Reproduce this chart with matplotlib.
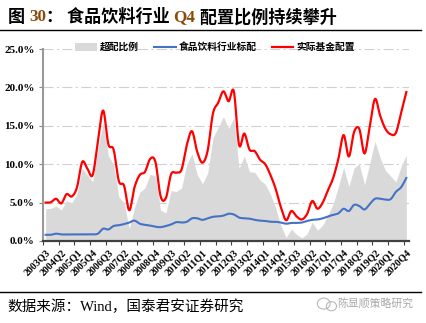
import numpy as np
import matplotlib
matplotlib.use("Agg")
import matplotlib.pyplot as plt
from matplotlib.ticker import PercentFormatter, FixedLocator
from matplotlib.patches import Patch, Ellipse
from matplotlib.lines import Line2D

# quarters 2003Q3 .. 2020Q4
quarters = [f"{y}Q{q}" for y in range(2003, 2021) for q in range(1, 5)][2:]

# actual fund allocation to food & beverage (%)
actual = [5.0, 5.05, 5.5, 4.9, 6.1, 5.8, 7.0, 10.3, 9.4, 8.6,
          13.0, 17.0, 12.6, 11.9, 7.8, 7.2, 4.0, 7.0, 8.6, 9.0,
          10.7, 10.3, 5.8, 5.6, 8.7, 8.9, 9.3, 12.5, 14.3, 11.6,
          10.2, 11.8, 16.6, 18.0, 19.5, 18.2, 19.5, 12.5, 14.0, 11.9,
          11.7, 10.6, 10.0, 8.6, 6.8, 4.4, 2.7, 3.9, 3.2, 2.8,
          3.5, 5.2, 4.2, 5.0, 6.6, 8.2, 10.7, 13.8, 11.0, 14.2,
          14.6, 11.4, 14.9, 18.5, 16.3, 14.6, 13.9, 14.1, 16.7, 19.4]

# market benchmark weight of the sector (%)
benchmark = [0.8, 0.8, 0.95, 0.85, 0.85, 0.85, 0.85, 0.85, 0.85, 0.85,
             0.95, 1.6, 1.5, 1.95, 2.05, 2.2, 2.4, 2.65, 2.25, 2.1,
             2.0, 1.85, 1.8, 1.95, 2.15, 2.45, 2.4, 2.5, 2.95, 2.95,
             2.75, 2.95, 3.15, 3.2, 3.3, 3.55, 3.45, 3.05, 2.95, 2.9,
             2.75, 2.65, 2.6, 2.5, 2.5, 2.4, 2.25, 2.35, 2.35, 2.4,
             2.6, 2.75, 2.8, 2.95, 3.2, 3.4, 3.6, 4.2, 3.9, 4.7,
             4.55, 4.1, 4.8, 5.5, 5.5, 5.4, 5.45, 6.4, 7.0, 8.2]

# overweight = actual - benchmark
overweight = np.array(actual) - np.array(benchmark)

CJK = ["Noto Sans CJK SC", "DejaVu Sans"]
SERIF_CJK = ["Liberation Serif", "Noto Sans CJK SC"]


def smooth(x, y, n=12):
    # Catmull-Rom curve through the points, like Excel's smoothed line
    x = np.asarray(x, float)
    y = np.asarray(y, float)
    px = np.concatenate([[2 * x[0] - x[1]], x, [2 * x[-1] - x[-2]]])
    py = np.concatenate([[2 * y[0] - y[1]], y, [2 * y[-1] - y[-2]]])
    t = np.linspace(0, 1, n, endpoint=False)[None, :]
    out = []
    for p in (px, py):
        p0, p1, p2, p3 = (p[k:len(p) - 3 + k][:, None] for k in range(4))
        seg = 0.5 * (2 * p1 + (-p0 + p2) * t
                     + (2 * p0 - 5 * p1 + 4 * p2 - p3) * t ** 2
                     + (-p0 + 3 * p1 - 3 * p2 + p3) * t ** 3)
        out.append(np.append(seg.ravel(), p[-2]))
    return out


fig = plt.figure(figsize=(4.26, 3.23), dpi=100)
ax = fig.add_axes([0.101, 0.254, 0.859, 0.594])

idx = np.arange(len(quarters))
ax.fill_between(idx, 0, overweight, color="#d9d9d9", lw=0, zorder=2)
bx, by = smooth(idx, benchmark)
ax.plot(bx, by, color="#4472c4", lw=1.5, zorder=3)
rx, ry = smooth(idx, actual)
ax.plot(rx, ry, color="#ff0000", lw=1.6, zorder=4)

ax.set_xlim(-0.5, len(quarters) - 0.5)
ax.set_ylim(0, 25)
ax.yaxis.set_major_locator(FixedLocator([0, 5, 10, 15, 20, 25]))
ax.yaxis.set_major_formatter(PercentFormatter(decimals=1))
ax.yaxis.grid(True, color="#d0d0d0", linestyle=(0, (9, 3, 2, 3)), lw=0.8, zorder=0)
ax.set_axisbelow(True)

ax.set_xticks(idx[::3])
ax.set_xticklabels(quarters[::3], rotation=45, ha="right", rotation_mode="anchor")
ax.set_xticks(np.arange(-0.5, len(quarters), 3), minor=True)
ax.tick_params(axis="x", which="major", length=0, pad=5)
ax.tick_params(axis="x", which="minor", length=3, color="#404040", width=0.8)
ax.tick_params(axis="y", length=3, color="#888888", width=0.8, pad=3)
for lab in ax.get_xticklabels():
    lab.set_fontfamily("Liberation Serif")
    lab.set_fontweight("bold")
    lab.set_fontsize(7.2)
for lab in ax.get_yticklabels():
    lab.set_fontfamily("Liberation Serif")
    lab.set_fontweight("bold")
    lab.set_fontsize(8)

for s in ("top", "right"):
    ax.spines[s].set_visible(False)
ax.spines["left"].set_color("#999999")
ax.spines["left"].set_linewidth(1.5)
ax.spines["bottom"].set_color("#404040")
ax.spines["bottom"].set_linewidth(1.6)

handles = [Patch(facecolor="#d9d9d9", edgecolor="none"),
           Line2D([], [], color="#4472c4", lw=1.5),
           Line2D([], [], color="#ff0000", lw=1.6)]
labels = ["超配比例", "食品饮料行业标配", "实际基金配置"]
ax.legend(handles, labels, loc="center", bbox_to_anchor=(0.47, 1.01), ncol=3,
          frameon=False, prop={"family": CJK, "size": 7, "weight": "bold"},
          handlelength=2.2, handleheight=0.8, columnspacing=1.6, handletextpad=0.3)

# title made of pieces with different colours
fig.canvas.draw()
r = fig.canvas.get_renderer()
pieces = [("图 ", "black", CJK), ("30", "#8a4b08", SERIF_CJK), ("： ", "black", CJK),
          ("食品饮料行业 ", "black", CJK), ("Q4", "#8a4b08", SERIF_CJK),
          (" 配置比例持续攀升", "black", CJK)]
x = 8 / 426
for txt, col, fam in pieces:
    t = fig.text(x, 0.947, txt, color=col, family=fam, fontsize=12.3,
                 fontweight="bold", va="center", ha="left")
    x += t.get_window_extent(r).width / fig.bbox.width

fig.add_artist(Line2D([0, 0.988], [0.907, 0.907], color="black", lw=1.0))
fig.add_artist(Line2D([0, 0.988], [0.096, 0.096], color="black", lw=1.0))

fig.text(7 / 426, 0.050, "数据来源：Wind，国泰君安证券研究", family=SERIF_CJK,
         fontsize=10.5, va="center", ha="left", color="black")
# watermark with a small chat-bubble icon
fig.add_artist(Ellipse((0.760, 0.060), 0.030, 0.034, transform=fig.transFigure,
                       facecolor="none", edgecolor="#b8b8b8", lw=0.8))
fig.add_artist(Ellipse((0.778, 0.052), 0.024, 0.028, transform=fig.transFigure,
                       facecolor="none", edgecolor="#b8b8b8", lw=0.8))
fig.text(0.97, 0.058, "陈显顺策略研究", family=CJK, fontsize=7.8,
         va="center", ha="right", color="#a8a8a8")

fig.savefig("out.png", dpi=100)
